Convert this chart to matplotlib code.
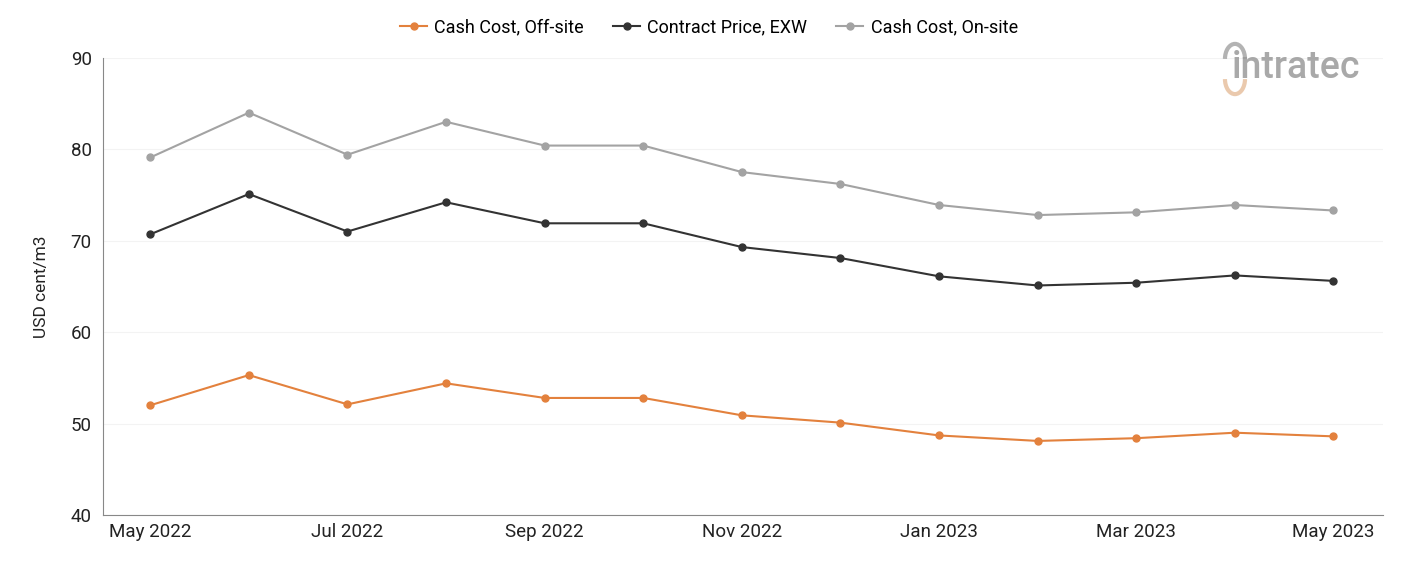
import matplotlib.pyplot as plt
from matplotlib.patches import Arc

plt.rcParams['font.family'] = ['Roboto', 'DejaVu Sans']

months = ["May 2022", "Jun 2022", "Jul 2022", "Aug 2022", "Sep 2022", "Oct 2022",
          "Nov 2022", "Dec 2022", "Jan 2023", "Feb 2023", "Mar 2023", "Apr 2023", "May 2023"]
offsite = [52.0, 55.3, 52.1, 54.4, 52.8, 52.8, 50.9, 50.1, 48.7, 48.1, 48.4, 49.0, 48.6]
contract = [70.7, 75.1, 71.0, 74.2, 71.9, 71.9, 69.3, 68.1, 66.1, 65.1, 65.4, 66.2, 65.6]
onsite = [79.1, 84.0, 79.4, 83.0, 80.4, 80.4, 77.5, 76.2, 73.9, 72.8, 73.1, 73.9, 73.3]

x = list(range(len(months)))

fig = plt.figure(figsize=(14.01, 5.61), dpi=100)
ax = fig.add_axes([0.0735, 0.082, 0.9135, 0.815])

ax.plot(x, offsite, color='#E3813D', marker='o', markersize=5, linewidth=1.5, label='Cash Cost, Off-site')
ax.plot(x, contract, color='#333333', marker='o', markersize=5, linewidth=1.5, label='Contract Price, EXW')
ax.plot(x, onsite, color='#A3A3A3', marker='o', markersize=5, linewidth=1.5, label='Cash Cost, On-site')

ax.set_ylim(40, 90)
ax.set_xlim(-0.48, 12.5)
ax.set_yticks([40, 50, 60, 70, 80, 90])
ax.set_xticks(x[::2])
ax.set_xticklabels(months[::2])
ax.tick_params(axis='both', length=0, labelsize=13.5, colors='#222222')
ax.tick_params(axis='x', pad=6)
ax.tick_params(axis='y', pad=8)
ax.set_ylabel("USD cent/m3", fontsize=12.5, labelpad=16, color='#222222')
ax.grid(axis='y', color='#f3f3f3', linewidth=0.8)
ax.set_axisbelow(True)
for s in ['top', 'right']:
    ax.spines[s].set_visible(False)
for s in ['left', 'bottom']:
    ax.spines[s].set_color('#888888')

fig.legend(loc='center', bbox_to_anchor=(0.506, 0.951), ncol=3, frameon=False,
           fontsize=13, handlelength=1.5, columnspacing=1.6, handletextpad=0.4)

# logo
fig.text(0.879, 0.879, "intratec", fontsize=27, color='#9a9a9a', alpha=0.85,
         fontweight='medium', ha='left', va='center')
fig.patches.append(Arc((0.8815, 0.895), 0.0143, 0.0535, theta1=0, theta2=180,
                       transform=fig.transFigure, color='#a0a0a0', lw=3, alpha=0.8))
fig.patches.append(Arc((0.8815, 0.859), 0.0143, 0.0535, theta1=180, theta2=360,
                       transform=fig.transFigure, color='#E8C4A4', lw=3, alpha=0.9))

fig.savefig('out.png', dpi=100)
